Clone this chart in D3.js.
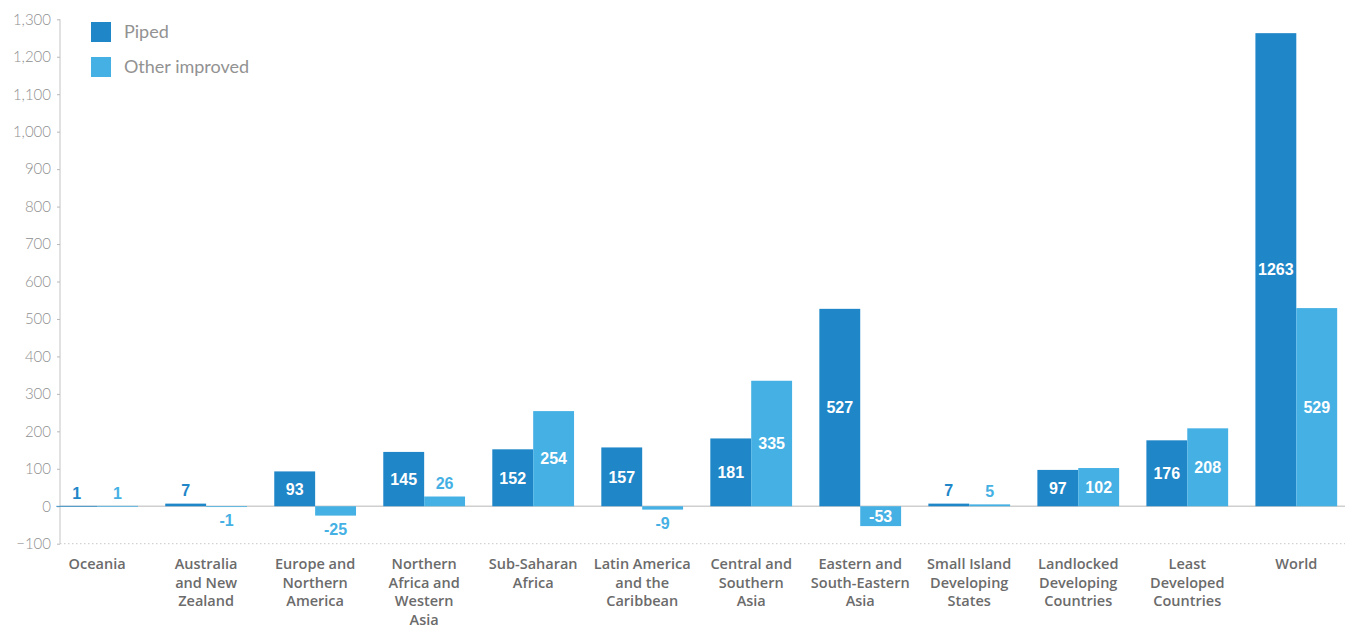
<!DOCTYPE html>
<html>
<head>
<meta charset="utf-8">
<script src="https://cdn.jsdelivr.net/npm/d3@7/dist/d3.min.js"></script>
<style>
  html, body { margin: 0; padding: 0; background: #fff; }
  svg { display: block; }
</style>
</head>
<body>
<svg id="chart" width="1345" height="627"></svg>
<script>
// ---- DATA ----
const categories = [
  "Oceania", "Australia and New Zealand", "Europe and Northern America",
  "Northern Africa and Western Asia", "Sub-Saharan Africa",
  "Latin America and the Caribbean", "Central and Southern Asia",
  "Eastern and South-Eastern Asia", "Small Island Developing States",
  "Landlocked Developing Countries", "Least Developed Countries", "World"
];
const categoryLabelLines = [
  ["Oceania"], ["Australia", "and New", "Zealand"], ["Europe and", "Northern", "America"],
  ["Northern", "Africa and", "Western", "Asia"], ["Sub-Saharan", "Africa"],
  ["Latin America", "and the", "Caribbean"], ["Central and", "Southern", "Asia"],
  ["Eastern and", "South-Eastern", "Asia"], ["Small Island", "Developing", "States"],
  ["Landlocked", "Developing", "Countries"], ["Least", "Developed", "Countries"], ["World"]
];
const seriesNames = ["Piped", "Other improved"];
const piped =         [1, 7, 93, 145, 152, 157, 181, 527, 7, 97, 176, 1263];
const otherImproved = [1, -1, -25, 26, 254, -9, 335, -53, 5, 102, 208, 529];
const yTickValues = [-100, 0, 100, 200, 300, 400, 500, 600, 700, 800, 900, 1000, 1100, 1200, 1300];
const seriesColors = ["#1f86c8", "#45b0e4"];

// ---- CHART ----
const svg = d3.select("#chart");
const FONT_LIGHT = "Lato, 'Open Sans', sans-serif";
const FONT_CAT = "'Open Sans', Lato, sans-serif";
const FONT_VAL = "'Liberation Sans', Arial, Helvetica, sans-serif";

const y = d3.scaleLinear().domain([-100, 1300]).range([543.7, 19.3]);
const x0 = d3.scaleBand().domain(categories).range([42.6, 1350.8])
  .paddingInner(0.25).paddingOuter(0.125);
const x1 = d3.scaleBand().domain(seriesNames).range([0, x0.bandwidth()]);
const axisX = 60;
const rightEdge = 1345;

// zero line and dotted -100 line
svg.append("line")
  .attr("x1", axisX).attr("x2", rightEdge)
  .attr("y1", y(0)).attr("y2", y(0))
  .attr("stroke", "#cfcfcf").attr("stroke-width", 1.5);
svg.append("line")
  .attr("x1", axisX).attr("x2", rightEdge)
  .attr("y1", y(-100)).attr("y2", y(-100))
  .attr("stroke", "#c8c8c8").attr("stroke-width", 1)
  .attr("stroke-dasharray", "1.5,2.5");

// y axis
const yAxis = d3.axisLeft(y).tickValues(yTickValues).tickFormat(d3.format(","))
  .tickSize(3).tickPadding(6);
const gy = svg.append("g").attr("transform", `translate(${axisX},0)`).call(yAxis);
gy.select(".domain").attr("stroke", "#c4c4c4").attr("d", `M0,${y(1300)}V${y(-100)}`);
gy.selectAll(".tick line").attr("stroke", "#b8b8b8");
gy.selectAll(".tick text")
  .attr("fill", "#8f8f8f")
  .style("font-family", FONT_LIGHT)
  .style("font-size", "15px")
  .style("font-weight", 300);

// bars
const rows = categories.map((c, i) => ({
  cat: c,
  vals: [
    { key: seriesNames[0], v: piped[i], color: seriesColors[0] },
    { key: seriesNames[1], v: otherImproved[i], color: seriesColors[1] }
  ]
}));

const groups = svg.append("g").selectAll("g").data(rows).join("g")
  .attr("transform", d => `translate(${x0(d.cat)},0)`);

groups.selectAll("rect").data(d => d.vals).join("rect")
  .attr("x", d => x1(d.key))
  .attr("width", x1.bandwidth())
  .attr("y", d => Math.min(y(d.v), y(0)))
  .attr("height", d => Math.max(Math.abs(y(d.v) - y(0)), 0.8))
  .attr("fill", d => d.color);

// value labels
groups.selectAll("text.val").data(d => d.vals).join("text")
  .attr("class", "val")
  .attr("x", d => x1(d.key) + x1.bandwidth() / 2)
  .attr("y", d => {
    if (Math.abs(d.v) >= 50) return (y(d.v) + y(0)) / 2;
    return d.v >= 0 ? y(d.v) - 13 : y(d.v) + 14;
  })
  .attr("dy", "0.36em")
  .attr("text-anchor", "middle")
  .attr("fill", d => Math.abs(d.v) >= 50 ? "#ffffff" : d.color)
  .style("font-family", FONT_VAL)
  .style("font-weight", 700)
  .style("font-size", "16px")
  .text(d => d.v);

// category labels
const catLabels = svg.append("g").selectAll("text").data(categories).join("text")
  .attr("text-anchor", "middle")
  .attr("fill", "#6b6b6b")
  .style("font-family", FONT_CAT)
  .style("font-weight", 600)
  .style("font-size", "14.5px")
  .attr("transform", d => `translate(${x0(d) + x0.bandwidth() / 2},0)`);
catLabels.selectAll("tspan").data((d, i) => categoryLabelLines[i]).join("tspan")
  .attr("x", 0)
  .attr("y", (d, j) => 569 + j * 18.5)
  .text(d => d);

// legend
const legend = svg.append("g").selectAll("g").data(seriesNames).join("g")
  .attr("transform", (d, i) => `translate(91,${22 + i * 35})`);
legend.append("rect").attr("width", 20).attr("height", 20)
  .attr("fill", (d, i) => seriesColors[i]);
legend.append("text")
  .attr("x", 33).attr("y", 10).attr("dy", "0.36em")
  .attr("fill", "#929292")
  .style("font-family", FONT_LIGHT)
  .style("font-size", "18px")
  .style("font-weight", 400)
  .text(d => d);
</script>
</body>
</html>
